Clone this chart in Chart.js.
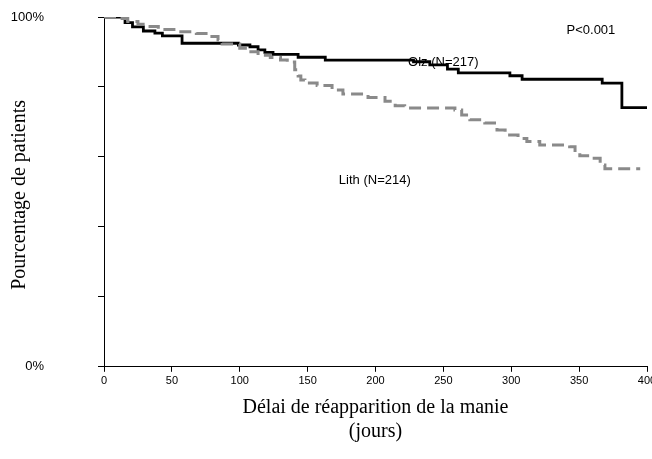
<!DOCTYPE html>
<html>
<head>
<meta charset="utf-8">
<script src="https://cdn.jsdelivr.net/npm/chart.js@4/dist/chart.umd.min.js"></script>
<style>
  html, body { margin: 0; padding: 0; background: #fff; }
  #wrap { width: 652px; height: 459px; position: relative; }
</style>
</head>
<body>
<div id="wrap"><canvas id="kmChart"></canvas></div>
<script>
// Olanzapine (courbe noire) - jour de l'evenement / % sans rechute
const olzDays = [0, 15.5, 21, 29, 37.5, 43, 57.5, 99, 107.5, 113.5, 118.5, 124.5, 143, 163, 228, 240, 253, 261, 299, 308, 367, 381.5, 400];
const olzPct  = [100, 98.4, 97.2, 96.0, 95.4, 94.6, 92.5, 92.0, 91.5, 90.6, 89.9, 89.3, 88.5, 87.7, 87.2, 86.3, 85.1, 84.0, 83.2, 82.2, 81.1, 74.1, 74.1];

// Lithium (courbe grise en tirets)
const lithDays = [0, 10, 17.5, 25, 30, 40, 54.5, 68, 78, 84, 87, 100, 106, 113.5, 122.5, 130, 135, 140.5, 143, 145, 148, 157, 168, 176, 194.5, 207, 214.5, 221.5, 258.5, 263.5, 269.5, 280.5, 289.5, 295.5, 305, 311.5, 321, 343, 347, 350.5, 358, 365.5, 369, 395];
const lithPct  = [100, 99.6, 98.7, 97.9, 97.3, 96.4, 95.8, 95.3, 94.4, 93.4, 92.3, 91.1, 90.1, 89.1, 88.4, 87.7, 87.1, 84.9, 83.1, 82.0, 81.1, 80.4, 79.1, 78.0, 77.0, 75.9, 74.6, 74.0, 73.4, 72.0, 70.6, 69.7, 67.7, 66.3, 65.3, 64.4, 63.4, 62.9, 61.4, 60.3, 59.6, 57.7, 56.6, 56.6];

const xTicks = [0, 50, 100, 150, 200, 250, 300, 350, 400];
const yTicks = [0, 20, 40, 60, 80, 100];
const yTickLabels = { 0: '0%', 100: '100%' };

// textes dans le graphique (position en unites des donnees)
const noteTexts = ['P<0.001', 'Olz (N=217)', 'Lith (N=214)'];
const noteX = [358.7, 224, 173];
const noteY = [96.3, 87.1, 53.4];
const noteAlign = ['center', 'left', 'left'];

const toPoints = (days, pct) => days.map((d, i) => ({ x: d, y: pct[i] }));

const notesPlugin = {
  id: 'notes',
  afterDatasetsDraw(chart) {
    const { ctx, scales: { x, y } } = chart;
    ctx.save();
    ctx.fillStyle = '#000';
    ctx.font = '13px "Liberation Sans", Arial, sans-serif';
    ctx.textBaseline = 'middle';
    noteTexts.forEach((t, i) => {
      ctx.textAlign = noteAlign[i];
      ctx.fillText(t, x.getPixelForValue(noteX[i]), y.getPixelForValue(noteY[i]));
    });
    ctx.restore();
  }
};

// titre de l'axe Y dessine a part (il est plus a gauche que les etiquettes)
const yTitlePlugin = {
  id: 'yTitle',
  afterDraw(chart) {
    const { ctx, chartArea } = chart;
    ctx.save();
    ctx.translate(20, (chartArea.top + chartArea.bottom) / 2 + 3);
    ctx.rotate(-Math.PI / 2);
    ctx.fillStyle = '#000';
    ctx.font = '20px "Liberation Serif", "Times New Roman", serif';
    ctx.textAlign = 'center';
    ctx.textBaseline = 'middle';
    ctx.fillText('Pourcentage de patients', 0, 0);
    ctx.restore();
  }
};

new Chart(document.getElementById('kmChart'), {
  type: 'line',
  data: {
    datasets: [
      {
        label: 'Lith (N=214)',
        data: toPoints(lithDays, lithPct),
        borderColor: '#8a8a8a',
        borderWidth: 3,
        borderDash: [12, 6],
        stepped: true,
        pointRadius: 0,
        fill: false
      },
      {
        label: 'Olz (N=217)',
        data: toPoints(olzDays, olzPct),
        borderColor: '#000',
        borderWidth: 2.8,
        stepped: true,
        pointRadius: 0,
        fill: false
      }
    ]
  },
  options: {
    responsive: true,
    maintainAspectRatio: false,
    animation: false,
    layout: { padding: { top: 17, right: 5, bottom: 8, left: 0 } },
    plugins: { legend: { display: false }, tooltip: { enabled: false } },
    scales: {
      x: {
        type: 'linear',
        min: 0,
        max: 400,
        afterBuildTicks: s => { s.ticks = xTicks.map(v => ({ value: v })); },
        afterFit: s => { s.paddingLeft = 0; s.paddingRight = 0; },
        ticks: {
          color: '#000',
          padding: 3,
          maxRotation: 0,
          font: { family: 'Liberation Sans', size: 11 }
        },
        grid: { drawOnChartArea: false, tickLength: 5, color: '#000' },
        border: { color: '#000' },
        title: {
          display: true,
          text: ['Délai de réapparition de la manie', '(jours)'],
          color: '#000',
          font: { family: 'Liberation Serif', size: 20, lineHeight: 1.2 },
          padding: { top: 5, bottom: 7 }
        }
      },
      y: {
        min: 0,
        max: 100,
        afterBuildTicks: s => { s.ticks = yTicks.map(v => ({ value: v })); },
        afterFit: s => { s.width = 104; s.paddingTop = 0; s.paddingBottom = 0; },
        ticks: {
          color: '#000',
          padding: 54,
          font: { family: 'Liberation Sans', size: 13 },
          callback: v => yTickLabels[v] || ''
        },
        grid: { drawOnChartArea: false, tickLength: 6, color: '#000' },
        border: { color: '#000' }
      }
    }
  },
  plugins: [notesPlugin, yTitlePlugin]
});
</script>
</body>
</html>
